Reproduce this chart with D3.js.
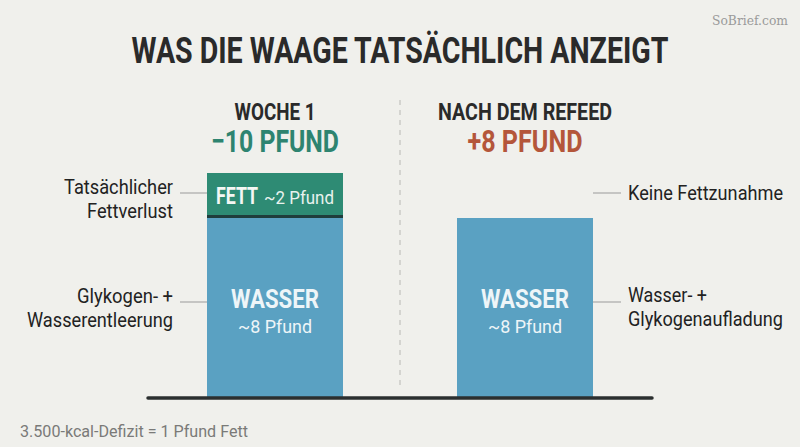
<!DOCTYPE html>
<html>
<head>
<meta charset="utf-8">
<script src="https://d3js.org/d3.v7.min.js"></script>
<style>
  body { margin: 0; background: #f0f0ec; }
  svg { display: block; }
  text { font-family: Roboto, "Liberation Sans", sans-serif; }
</style>
</head>
<body>
<div id="chart"></div>
<script>
// data
const groups = ["Woche 1", "Nach dem Refeed"];
const headers = ["WOCHE 1", "NACH DEM REFEED"];
const changes = ["\u221210 PFUND", "+8 PFUND"];
const waterLbs = [8, 8];
const fatLbs = [2, 0];
const leftNotes = [["Tatsächlicher", "Fettverlust"], ["Glykogen- +", "Wasserentleerung"]];
const rightNotes = [["Keine Fettzunahme"], ["Wasser- +", "Glykogenaufladung"]];

const w = 800, h = 447;
const baseY = 398;

const svg = d3.select("#chart").append("svg")
  .attr("width", w)
  .attr("height", h);

svg.append("rect").attr("width", w).attr("height", h).attr("fill", "#f0f0ec");

const x = d3.scaleBand()
  .domain(groups)
  .range([150, 650])
  .paddingInner(0.456)
  .paddingOuter(0.228);

const y = d3.scaleLinear()
  .domain([0, 10])
  .range([baseY, 173]);

// title + watermark
svg.append("text")
  .attr("x", 400).attr("y", 63)
  .attr("text-anchor", "middle")
  .attr("textLength", 537).attr("lengthAdjust", "spacingAndGlyphs")
  .style("font-size", "37px").style("font-weight", 700)
  .attr("fill", "#2a2a2a")
  .text("WAS DIE WAAGE TATSÄCHLICH ANZEIGT");

svg.append("text")
  .attr("x", 712).attr("y", 25)
  .style("font-family", "'DejaVu Serif', serif").style("font-size", "13px")
  .attr("textLength", 76).attr("lengthAdjust", "spacingAndGlyphs")
  .attr("fill", "#9a9a9a")
  .text("SoBrief.com");

// divider
svg.append("line")
  .attr("x1", 400).attr("x2", 400)
  .attr("y1", 100).attr("y2", 390)
  .attr("stroke", "#b8b8b4").attr("stroke-width", 1)
  .attr("stroke-dasharray", "5,5");

// headers
const headW = [81, 174];
const chgW = [128, 115];
svg.selectAll(".head")
  .data(groups)
  .join("text")
  .attr("class", "head")
  .attr("x", (d, i) => x(d) + x.bandwidth() / 2 - headW[i] / 2)
  .attr("y", 120)
  .attr("textLength", (d, i) => headW[i]).attr("lengthAdjust", "spacingAndGlyphs")
  .style("font-size", "24px").style("font-weight", 700)
  .attr("fill", "#2a2a2a")
  .text((d, i) => headers[i]);

svg.selectAll(".chg")
  .data(groups)
  .join("text")
  .attr("class", "chg")
  .attr("x", (d, i) => x(d) + x.bandwidth() / 2 - chgW[i] / 2)
  .attr("y", 152)
  .attr("textLength", (d, i) => chgW[i]).attr("lengthAdjust", "spacingAndGlyphs")
  .style("font-size", "32px").style("font-weight", 700)
  .attr("fill", (d, i) => i === 0 ? "#2e8470" : "#b4563a")
  .text((d, i) => changes[i]);

// water bars
svg.selectAll(".water")
  .data(groups)
  .join("rect")
  .attr("class", "water")
  .attr("x", d => x(d))
  .attr("y", (d, i) => y(waterLbs[i]))
  .attr("width", x.bandwidth())
  .attr("height", (d, i) => baseY - y(waterLbs[i]))
  .attr("fill", "#5aa1c2");

// fat segments
const fatData = groups.map((g, i) => ({g, w: waterLbs[i], f: fatLbs[i]})).filter(d => d.f > 0);
svg.selectAll(".fat")
  .data(fatData)
  .join("rect")
  .attr("class", "fat")
  .attr("x", d => x(d.g))
  .attr("y", d => y(d.w + d.f))
  .attr("width", x.bandwidth())
  .attr("height", d => y(d.w) - y(d.w + d.f))
  .attr("fill", "#2e8b74");

svg.selectAll(".fatline")
  .data(fatData)
  .join("rect")
  .attr("class", "fatline")
  .attr("x", d => x(d.g))
  .attr("y", d => y(d.w) - 3)
  .attr("width", x.bandwidth())
  .attr("height", 3)
  .attr("fill", "#1f3d3c");

const fatLab = svg.selectAll(".fatlab")
  .data(fatData)
  .join("text")
  .attr("class", "fatlab")
  .attr("x", d => x(d.g) + 9)
  .attr("y", d => (y(d.w) + y(d.w + d.f)) / 2 + 8);
fatLab.append("tspan")
  .attr("textLength", 42).attr("lengthAdjust", "spacingAndGlyphs")
  .style("font-size", "24px").style("font-weight", 700)
  .attr("fill", "#f4f7f4")
  .text("FETT");
fatLab.append("tspan")
  .attr("dx", 6)
  .attr("textLength", 70).attr("lengthAdjust", "spacingAndGlyphs")
  .style("font-size", "19px")
  .attr("fill", "#e8f2ee")
  .text(d => "~" + d.f + " Pfund");

// water labels
svg.selectAll(".wlab")
  .data(groups)
  .join("text")
  .attr("class", "wlab")
  .attr("x", d => x(d) + x.bandwidth() / 2 - 44)
  .attr("y", 308)
  .attr("textLength", 88).attr("lengthAdjust", "spacingAndGlyphs")
  .style("font-size", "25px").style("font-weight", 700)
  .attr("fill", "#eef5f8")
  .text("WASSER");

svg.selectAll(".wsub")
  .data(groups)
  .join("text")
  .attr("class", "wsub")
  .attr("x", d => x(d) + x.bandwidth() / 2 - 37)
  .attr("y", 333)
  .attr("textLength", 74).attr("lengthAdjust", "spacingAndGlyphs")
  .style("font-size", "19px")
  .attr("fill", "#eef5f8")
  .text((d, i) => "~" + waterLbs[i] + " Pfund");

// baseline
svg.append("line")
  .attr("x1", 148).attr("x2", 652)
  .attr("y1", baseY).attr("y2", baseY)
  .attr("stroke", "#2b2f2f").attr("stroke-width", 3.5)
  .attr("stroke-linecap", "round");

// side notes
const noteY = [193, 302];
const leftLen = [[109, 86], [96, 146]];
const rightLen = [[155], [79, 155]];
leftNotes.forEach((lines, k) => {
  const x0 = x(groups[0]);
  svg.append("line")
    .attr("x1", 180).attr("x2", x0)
    .attr("y1", noteY[k]).attr("y2", noteY[k])
    .attr("stroke", "#9a9a9a").attr("stroke-width", 1);
  lines.forEach((t, j) => {
    svg.append("text")
      .attr("x", 173 - leftLen[k][j]).attr("y", noteY[k] + 1 + j * 24)
      .attr("textLength", leftLen[k][j]).attr("lengthAdjust", "spacingAndGlyphs")
      .style("font-size", "20px")
      .attr("fill", "#222")
      .text(t);
  });
});

rightNotes.forEach((lines, k) => {
  const x1 = x(groups[1]) + x.bandwidth();
  svg.append("line")
    .attr("x1", x1).attr("x2", 621)
    .attr("y1", noteY[k]).attr("y2", noteY[k])
    .attr("stroke", "#9a9a9a").attr("stroke-width", 1);
  lines.forEach((t, j) => {
    svg.append("text")
      .attr("x", 628).attr("y", noteY[k] + (lines.length > 1 ? 0 : 7) + j * 24)
      .attr("textLength", rightLen[k][j]).attr("lengthAdjust", "spacingAndGlyphs")
      .style("font-size", "20px")
      .attr("fill", "#222")
      .text(t);
  });
});

// footnote
svg.append("text")
  .attr("x", 20).attr("y", 437)
  .style("font-size", "16px")
  .attr("fill", "#7a7a78")
  .attr("textLength", 228).attr("lengthAdjust", "spacingAndGlyphs")
  .text("3.500-kcal-Defizit = 1 Pfund Fett");
</script>
</body>
</html>
